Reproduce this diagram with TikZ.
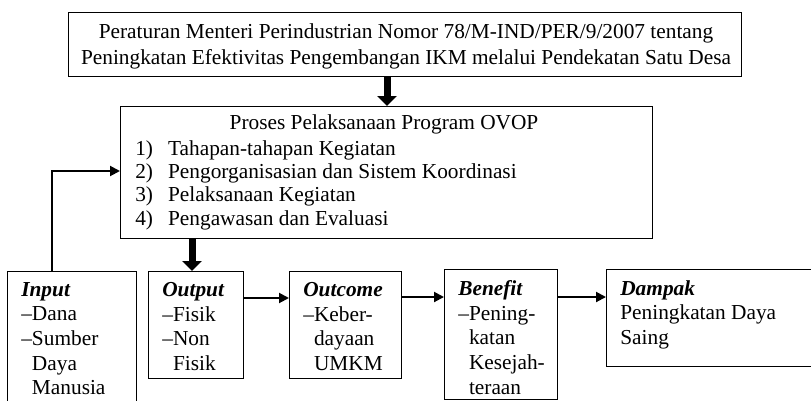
\documentclass[tikz,border=0pt]{standalone}
\usepackage{fontspec}
\setmainfont{Liberation Serif}
\usetikzlibrary{arrows.meta}
\begin{document}
\begin{tikzpicture}[x=0.6pt,y=-0.6pt,
  font=\fontsize{12.8}{14}\selectfont,
  box/.style={draw,line width=0.6pt,inner sep=0pt,anchor=north west},
  txt/.style={inner sep=0pt,anchor=north west,align=left},
  flow/.style={line width=1.2pt,-{Triangle[width=6pt,length=6pt]}},
  bigflow/.style={line width=4.2pt,-{Triangle[width=11.4pt,length=6pt]}}]
\useasboundingbox (0,0) rectangle (811,400);
\clip (0,0) rectangle (811,400);
\newcommand{\ind}{\phantom{\textendash}}

% regulation box
\node[box,minimum width=673*0.6pt,minimum height=64*0.6pt] (reg) at (68,12) {};
\node[align=center,inner sep=0pt] (regtxt) at (406,46)
  {Peraturan Menteri Perindustrian Nomor 78/M-IND/PER/9/2007 tentang\\[1.6pt]
   Peningkatan Efektivitas Pengembangan IKM melalui Pendekatan Satu Desa};

% process box
\node[box,minimum width=532*0.6pt,minimum height=132*0.6pt] (proc) at (120,106) {};
\node[anchor=center,inner sep=0pt] (proctitle) at (384,124) {Proses Pelaksanaan Program OVOP};
\node[txt] (proclist) at (135,140)
  {1)\hspace{9pt}Tahapan-tahapan Kegiatan\\
   2)\hspace{9pt}Pengorganisasian dan Sistem Koordinasi\\
   3)\hspace{9pt}Pelaksanaan Kegiatan\\
   4)\hspace{9pt}Pengawasan dan Evaluasi};

% lower row of boxes
\node[box,minimum width=129*0.6pt,minimum height=140*0.6pt] (input) at (7,271) {};
\node[box,minimum width=95*0.6pt,minimum height=107*0.6pt] (output) at (148,271) {};
\node[box,minimum width=112*0.6pt,minimum height=107*0.6pt] (outcome) at (289,271) {};
\node[box,minimum width=113*0.6pt,minimum height=130*0.6pt] (benefit) at (444,269) {};
\node[box,minimum width=215*0.6pt,minimum height=97*0.6pt] (dampak) at (606,269) {};

\node[txt] (inputtxt) at (21,282)
  {{\bfseries\itshape Input}\\[0.8pt]
   \textendash Dana\\[0.8pt]
   \textendash Sumber\\[0.8pt]
   \ind Daya\\[0.8pt]
   \ind Manusia};
\node[txt] (outputtxt) at (162,282)
  {{\bfseries\itshape Output}\\[0.8pt]
   \textendash Fisik\\[0.8pt]
   \textendash Non\\[0.8pt]
   \ind Fisik};
\node[txt] (outcometxt) at (303,282)
  {{\bfseries\itshape Outcome}\\[0.8pt]
   \textendash Keber-\\[0.8pt]
   \ind dayaan\\[0.8pt]
   \ind UMKM};
\node[txt] (benefittxt) at (458,280)
  {{\bfseries\itshape Benefit}\\[0.8pt]
   \textendash Pening-\\[0.8pt]
   \ind katan\\[0.8pt]
   \ind Kesejah-\\[0.8pt]
   \ind teraan};
\node[txt] (dampaktxt) at (620,280)
  {{\bfseries\itshape Dampak}\\[0.8pt]
   Peningkatan Daya\\[0.8pt]
   Saing};

% connectors
\draw[bigflow] (reg.south -| 387,0) -- (proc.north -| 387,0);
\draw[bigflow] (proc.south -| 192,0) -- (output.north -| 192,0);
\coordinate (bend) at (52,171);
\draw[flow] (input.north -| bend) -- (bend) -- (bend -| proc.west);
\draw[flow] (output.east |- 0,298) -- (outcome.west |- 0,298);
\draw[flow] (outcome.east |- 0,297) -- (benefit.west |- 0,297);
\draw[flow] (benefit.east |- 0,297) -- (dampak.west |- 0,297);
\end{tikzpicture}
\end{document}
